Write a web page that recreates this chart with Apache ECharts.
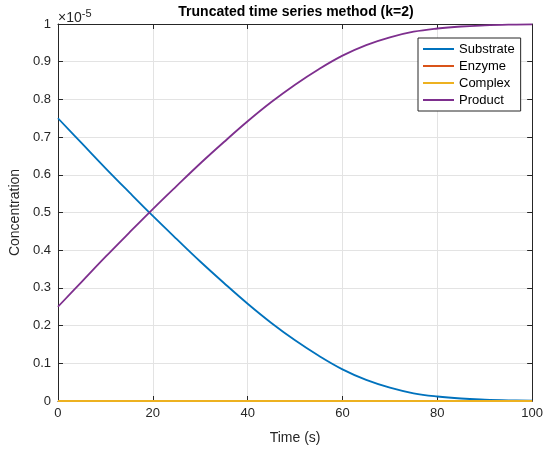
<!DOCTYPE html>
<html>
<head>
<meta charset="utf-8">
<script src="https://cdn.jsdelivr.net/npm/echarts@6/dist/echarts.min.js"></script>
<style>
html,body{margin:0;padding:0;background:#fff;}
#c{width:546px;height:451px;}
</style>
</head>
<body>
<div id="c"></div>
<script>
// Values are in units of 1e-5 (axis exponent shown as ×10^-5)
const timeS = [0,5,10,15,20,25,30,35,40,45,50,55,60,65,70,75,80,85,90,95,100];
const substrate = [0.750,0.684,0.618,0.554,0.491,0.430,0.370,0.313,0.258,0.207,0.161,0.120,0.084,0.056,0.0355,0.0205,0.0119,0.0066,0.0037,0.0019,0.0009];
const enzyme    = [0,0,0,0,0,0,0,0,0,0,0,0,0,0,0,0,0,0,0,0,0];
const complex   = [0,0,0,0,0,0,0,0,0,0,0,0,0,0,0,0,0,0,0,0,0];
const product   = [0.250,0.316,0.382,0.446,0.509,0.570,0.630,0.687,0.742,0.793,0.839,0.880,0.916,0.944,0.9645,0.9795,0.9881,0.9934,0.9963,0.9981,0.9991];
const seriesNames = ['Substrate','Enzyme','Complex','Product'];
const seriesColors = ['#0072BD','#D95319','#EDB120','#7E2F8E'];
const xTicks = {min:0, max:100, interval:20};
const yTicks = {min:0, max:1, interval:0.1};
const titleText = 'Truncated time series method (k=2)';
const xLabel = 'Time (s)';
const yLabel = 'Concentration';
const expText = '-5';

const FONT = '"Liberation Sans", Arial, Helvetica, sans-serif';
const AX = '#262626';
const chart = echarts.init(document.getElementById('c'), null, {renderer:'canvas'});
const allData = [substrate, enzyme, complex, product];
const series = allData.map((arr, i) => ({
  name: seriesNames[i],
  type: 'line',
  xAxisIndex: 0, yAxisIndex: 0,
  data: timeS.map((t, j) => [t, arr[j]]),
  symbol: 'none',
  smooth: 0.4,
  color: seriesColors[i],
  lineStyle: {color: seriesColors[i], width: 1.8},
  z: 2 + i,
  animation: false
}));

function axisCommon(extra){
  return Object.assign({
    type:'value',
    axisLine:{show:true, onZero:false, lineStyle:{color:AX, width:1}},
    axisTick:{show:true, inside:true, length:5, lineStyle:{color:AX}},
    axisLabel:{show:false},
    splitLine:{show:false}
  }, extra);
}

chart.setOption({
  animation:false,
  backgroundColor:'#fff',
  textStyle:{fontFamily:FONT},
  grid:{left:57, right:11, top:24, bottom:50, containLabel:false},
  xAxis:[
    axisCommon({position:'bottom', min:xTicks.min, max:xTicks.max, interval:xTicks.interval,
      name:xLabel, nameLocation:'middle', nameGap:30,
      nameTextStyle:{color:AX, fontSize:14, fontFamily:FONT},
      axisLabel:{show:true, color:AX, fontSize:13, margin:6, fontFamily:FONT},
      splitLine:{show:true, lineStyle:{color:'#e3e3e3', width:1}}}),
    axisCommon({position:'top', min:xTicks.min, max:xTicks.max, interval:xTicks.interval})
  ],
  yAxis:[
    axisCommon({position:'left', min:yTicks.min, max:yTicks.max, interval:yTicks.interval,
      name:yLabel, nameLocation:'middle', nameGap:25,
      nameTextStyle:{color:AX, fontSize:14, fontFamily:FONT},
      axisLabel:{show:true, color:AX, fontSize:13, margin:7, fontFamily:FONT,
        formatter:(v)=> String(Math.round(v*10)/10)},
      splitLine:{show:true, lineStyle:{color:'#e3e3e3', width:1}}}),
    axisCommon({position:'right', min:yTicks.min, max:yTicks.max, interval:yTicks.interval})
  ],
  legend:{
    orient:'vertical', left:418, top:38,
    data:seriesNames,
    icon:'rect',
    itemWidth:31, itemHeight:2, itemGap:3,
    padding:[4,6,4,5],
    backgroundColor:'#fff', borderColor:AX, borderWidth:1,
    textStyle:{color:'#000', fontSize:13, fontFamily:FONT, lineHeight:14}
  },
  graphic:[
    {type:'text', x:296, y:12, style:{text:titleText, align:'center', verticalAlign:'middle',
      font:'bold 14px '+FONT, fill:'#000'}},
    {type:'text', x:58, y:18, style:{text:'×10{s|'+expText+'}', verticalAlign:'middle', align:'left',
      font:'14px '+FONT, fill:AX,
      rich:{s:{fontSize:11, verticalAlign:'top', padding:[0,0,9,0], fill:AX, fontFamily:FONT}}}}
  ],
  series:series
});
</script>
</body>
</html>
